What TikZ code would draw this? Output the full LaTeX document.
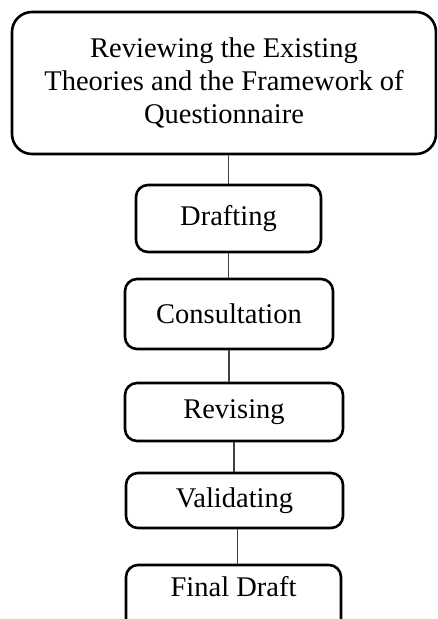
\documentclass[tikz,border=0pt]{standalone}
\usepackage{fontspec}
\setmainfont{Liberation Serif}
\usetikzlibrary{positioning}

\tikzset{
  stagebox/.style={draw, line width=2.6pt, rounded corners=12pt, align=center,
    inner sep=0pt, font=\fontsize{28.5}{33}\selectfont},
  link/.style={line width=1.4pt, black!75}
}

\begin{document}
\begin{tikzpicture}[x=1pt,y=-1pt]
  % Page frame
  \useasboundingbox (0,0) rectangle (437,619);
  \clip (0,0) rectangle (437,619);
  % Stages
  \node[stagebox, rounded corners=20pt, minimum width=424pt, minimum height=142pt]
    (review) at (224,83) {Reviewing the Existing\\Theories and the Framework of\\Questionnaire};
  \node[stagebox, minimum width=185pt, minimum height=67pt] (draft) at (228.5,218.5) {Drafting};
  \node[stagebox, minimum width=208pt, minimum height=70pt] (consult) at (229,314) {Consultation};
  \node[stagebox, minimum width=218pt, minimum height=58pt] (revise) at (234,412) {Revising};
  \node[stagebox, minimum width=217pt, minimum height=55pt] (valid) at (234.5,500.5) {Validating};
  \node[stagebox, minimum width=215pt, minimum height=72pt, text depth=30pt]
    (final) at (233.5,601) {Final Draft};
  % Links
  \draw[link] (draft.north |- review.south) -- (draft.north);
  \draw[link] (draft.south) -- (draft.south |- consult.north);
  \draw[link] (consult.south) -- (consult.south |- revise.north);
  \draw[link] (revise.south) -- (revise.south |- valid.north);
  \draw[link] ([xshift=3pt]valid.south) -- ([xshift=3pt]valid.south |- final.north);
\end{tikzpicture}
\end{document}
